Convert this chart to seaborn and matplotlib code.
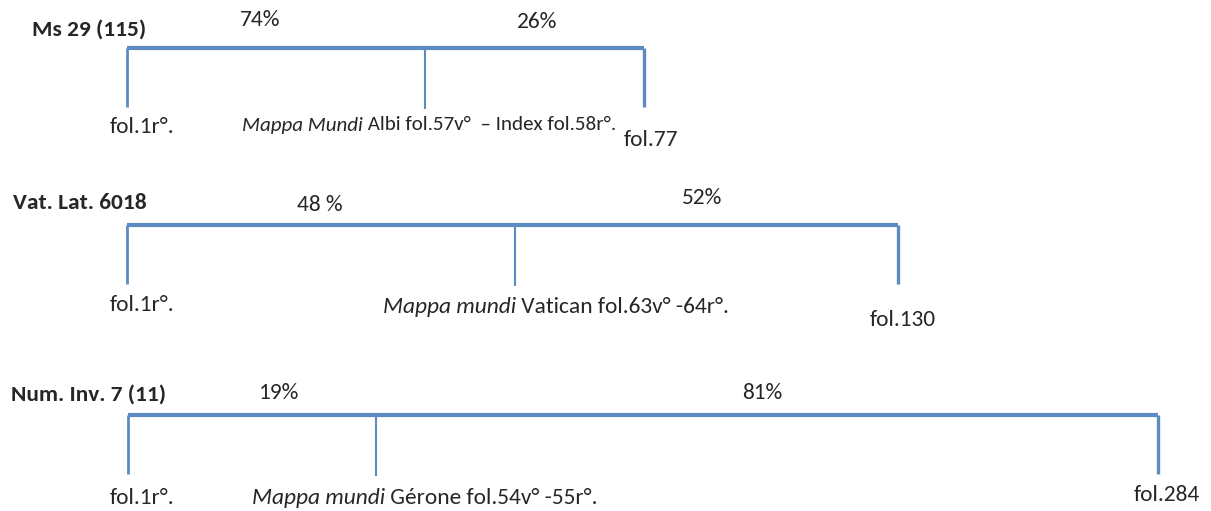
import pandas as pd
import matplotlib.pyplot as plt
import seaborn as sns

# three manuscripts, schematic position of the mappa mundi inside each codex
manuscripts = ["Ms 29 (115)", "Vat. Lat. 6018", "Num. Inv. 7 (11)"]
pct_before = ["74%", "48 %", "19%"]
pct_after = ["26%", "52%", "81%"]
start_labels = ["fol.1r°.", "fol.1r°.", "fol.1r°."]
end_labels = ["fol.77", "fol.130", "fol.284"]
map_italic = ["Mappa Mundi", "Mappa mundi", "Mappa mundi"]
map_rest = [" Albi fol.57v°  – Index fol.58r°.", " Vatican fol.63v° -64r°.",
            " Gérone fol.54v° -55r°."]

# bar extents (schematic units)
bar_start = [127, 127, 128]
bar_split = [425, 515, 376]
bar_end = [644, 898, 1158]
bar_y = [48, 225, 415]
tick_bottom = [107, 284, 474]

sns.set_style("white")
plt.rcParams["font.family"] = ["Carlito", "Lato", "DejaVu Sans"]

color = "#5b8bc0"
fs = 16.8

fig = plt.figure(figsize=(12.11, 5.11), dpi=100)
ax = fig.add_axes([0, 0, 1, 1])

rows = []
for i, m in enumerate(manuscripts):
    rows.append({"x": bar_start[i], "y": bar_y[i], "ms": m})
    rows.append({"x": bar_end[i], "y": bar_y[i], "ms": m})
bars = pd.DataFrame(rows)
sns.lineplot(data=bars, x="x", y="y", units="ms", estimator=None, sort=False,
             color=color, lw=3, ax=ax, solid_capstyle="butt")

ax.vlines(bar_start, bar_y, tick_bottom, color=color, lw=2.0)
ax.vlines(bar_end, bar_y, tick_bottom, color=color, lw=2.4)
ax.vlines(bar_split, [y + 2 for y in bar_y], [b + 2 for b in tick_bottom],
          color=color, lw=1.5)

# text layout (pixel positions)
title_xy = [(32, 30), (13, 203), (11, 395)]
before_xy = [(260, 20), (320, 205), (278, 393)]
after_xy = [(537, 22), (702, 198), (762, 393)]
start_xy = [(142, 127), (142, 305), (142, 498)]
end_xy = [(651, 140), (903, 320), (1167, 495)]
map_xy = [(242, 125), (383, 307), (252, 498)]
map_fs = [15.1, fs, fs]

for i in range(3):
    ax.text(*title_xy[i], manuscripts[i], fontsize=fs, fontweight="bold",
            ha="left", va="center")
    ax.text(*before_xy[i], pct_before[i], fontsize=fs, ha="center", va="center")
    ax.text(*after_xy[i], pct_after[i], fontsize=fs, ha="center", va="center")
    ax.text(*start_xy[i], start_labels[i], fontsize=fs, ha="center", va="center")
    ax.text(*end_xy[i], end_labels[i], fontsize=fs, ha="center", va="center")
    it = ax.text(*map_xy[i], map_italic[i], fontsize=map_fs[i], style="italic",
                 ha="left", va="center")
    ax.annotate(map_rest[i], xy=(1, 0), xycoords=it, fontsize=map_fs[i],
                ha="left", va="bottom")

ax.set_xlim(0, 1211)
ax.set_ylim(511, 0)
ax.axis("off")

fig.savefig("out.png", dpi=100)
